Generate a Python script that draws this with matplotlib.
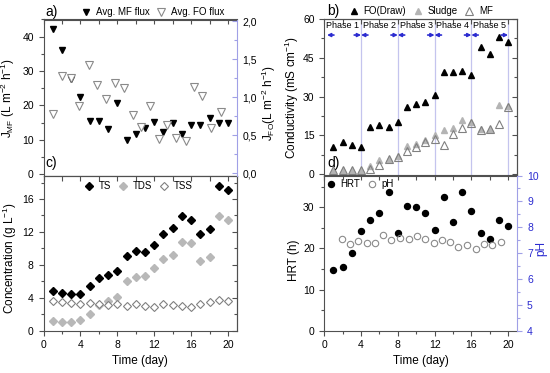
import matplotlib
matplotlib.use('Agg')
import matplotlib.pyplot as plt
from matplotlib.ticker import MultipleLocator, FixedLocator, NullFormatter

plt.rcParams['font.family'] = ['Liberation Sans', 'DejaVu Sans']
plt.rcParams['mathtext.fontset'] = 'custom'
plt.rcParams['mathtext.rm'] = 'Liberation Sans'
plt.rcParams['mathtext.it'] = 'Liberation Sans:italic'
plt.rcParams['mathtext.bf'] = 'Liberation Sans:bold'

# ---------------- data ----------------
days = [1, 2, 3, 4, 5, 6, 7, 8, 9, 10, 11, 12, 13, 14, 15, 16, 17, 18, 19, 20]

# panel a
mf_flux = [42.3, 36.1, 27.8, 22.4, 15.4, 15.5, 13.2, 20.6, 9.9, 11.8,
           13.4, 15.1, 12.4, 14.9, 11.7, 14.4, 14.3, 16.3, 14.8, 14.8]
fo_days = [1.0, 2.0, 3.0, 3.9, 4.9, 5.8, 6.8, 7.7, 8.7, 9.7,
           10.6, 11.5, 12.5, 13.4, 14.4, 15.4, 16.3, 17.2, 18.2, 19.2]
fo_flux = [0.78, 1.28, 1.25, 0.89, 1.42, 1.16, 0.98, 1.18, 1.12, 0.77,
           0.61, 0.89, 0.45, 0.64, 0.47, 0.42, 1.14, 1.01, 0.60, 0.80]
fo_ticks = [0.0, 0.5, 1.0, 1.5, 2.0]
fo_ticklabels = ['0,0', '0,5', '1,0', '1,5', '2,0']

# panel b
fo_draw = [10.7, 12.5, 11.4, 10.5, 18.4, 19.2, 18.3, 20.2, 25.9, 27.3,
           28.0, 30.5, 39.6, 39.4, 39.8, 38.2, 49.3, 46.6, 53.0, 51.2]
sludge = [1.8, 1.6, 1.7, 1.8, 3.3, 5.4, 6.0, 6.9, 10.9, 11.7,
          13.3, 15.2, 17.0, 17.9, 21.0, 20.0, 17.3, 17.6, 26.7, 26.3]
mf_cond = [1.7, 1.5, 1.6, 1.7, 1.9, 3.6, 5.8, 6.7, 9.1, 10.5,
           12.4, 13.5, 11.2, 15.7, 17.8, 19.7, 16.9, 17.3, 19.3, 26.1]
phase_names = ['Phase 1', 'Phase 2', 'Phase 3', 'Phase 4', 'Phase 5']
phase_bounds = [0.3, 4, 8, 12, 16, 20]

# panel c
ts = [4.8, 4.6, 4.4, 4.5, 5.4, 6.4, 6.8, 7.3, 9.1, 9.7,
      9.6, 10.4, 11.8, 12.5, 13.9, 13.4, 11.8, 12.3, 17.6, 17.1]
tds = [1.2, 1.1, 1.06, 1.3, 2.0, 3.1, 3.6, 4.1, 6.1, 6.5,
       6.7, 7.6, 8.7, 9.2, 10.8, 10.6, 8.5, 9.0, 13.9, 13.5]
tss = [3.6, 3.5, 3.4, 3.3, 3.4, 3.3, 3.1, 3.2, 3.0, 3.25,
       2.97, 2.85, 3.2, 3.1, 3.05, 2.85, 3.3, 3.45, 3.7, 3.65]

# panel d
hrt = [14.7, 15.5, 18.9, 24.2, 26.8, 28.7, 33.7, 23.8, 30.3, 30.1,
       28.7, 24.5, 32.4, 26.3, 33.8, 29.0, 23.8, 22.3, 27.0, 25.4]
ph_days = [1.9, 2.8, 3.7, 4.6, 5.5, 6.4, 7.3, 8.2, 9.2, 10.1,
           11.0, 11.9, 12.8, 13.7, 14.6, 15.5, 16.5, 17.4, 18.3, 19.2]
ph = [7.55, 7.36, 7.45, 7.40, 7.38, 7.69, 7.50, 7.60, 7.53, 7.68,
      7.53, 7.38, 7.49, 7.42, 7.23, 7.33, 7.14, 7.36, 7.31, 7.42]

# ---------------- figure ----------------
W, H = 550, 373
fig = plt.figure(figsize=(5.5, 3.73), dpi=100)

def rect(x0, y0, x1, y1):
    return [x0 / W, 1 - y1 / H, (x1 - x0) / W, (y1 - y0) / H]

SPINE = '#505050'
LAV = '#a0a0e6'
BLUE = '#2b2bd0'
TL = 7.5
LBL = 8.5

ax_a = fig.add_axes(rect(43.5, 19.5, 237.3, 176))
ax_c = fig.add_axes(rect(43.5, 176, 237.3, 330.7))
ax_b = fig.add_axes(rect(324.3, 19, 517.3, 175.5))
ax_d = fig.add_axes(rect(324.3, 175.5, 517.3, 330.7))


def style(ax, ymaj, ymin, xlabels, mirror_right):
    for s in ax.spines.values():
        s.set_color(SPINE)
        s.set_linewidth(0.8)
    ax.set_xlim(0, 21)
    ax.xaxis.set_major_locator(MultipleLocator(4))
    ax.xaxis.set_minor_locator(MultipleLocator(2))
    ax.yaxis.set_major_locator(MultipleLocator(ymaj))
    ax.yaxis.set_minor_locator(MultipleLocator(ymin))
    ax.tick_params(which='both', direction='out', top=False, right=False,
                   color=SPINE, labelcolor='black', labelsize=TL, width=0.8)
    ax.tick_params(which='major', length=3.5)
    ax.tick_params(which='minor', length=2)
    if not xlabels:
        ax.tick_params(labelbottom=False)
    sx = ax.secondary_xaxis('top')
    sx.xaxis.set_major_locator(MultipleLocator(4))
    sx.xaxis.set_minor_locator(MultipleLocator(2))
    sx.tick_params(which='both', direction='in', labeltop=False, color=SPINE, width=0.8)
    sx.tick_params(which='major', length=3.5)
    sx.tick_params(which='minor', length=3.5)
    sx.spines['top'].set_color(SPINE)
    sx.spines['top'].set_linewidth(0.8)
    if mirror_right:
        sy = ax.secondary_yaxis('right')
        sy.yaxis.set_major_locator(MultipleLocator(ymaj))
        sy.yaxis.set_minor_locator(MultipleLocator(ymin))
        sy.tick_params(which='both', direction='in', labelright=False, color=SPINE, width=0.8)
        sy.tick_params(which='major', length=3.5)
        sy.tick_params(which='minor', length=2)
        sy.spines['right'].set_color(SPINE)
        sy.spines['right'].set_linewidth(0.8)


# ---- panel a ----
style(ax_a, 10, 5, False, False)
ax_a.set_ylim(-0.5, 45)
ax_a.spines['right'].set_visible(False)
h_mf, = ax_a.plot(days, mf_flux, 'v', color='black', ms=5, zorder=3)
ax_a2 = ax_a.twinx()
ax_a2.set_ylim(-0.035, 2.02)
h_fo, = ax_a2.plot(fo_days, fo_flux, 'v', mfc='white', mec='#8a8a8a', mew=0.8, ms=5.5)
ax_a2.yaxis.set_major_locator(FixedLocator(fo_ticks))
ax_a2.set_yticklabels(fo_ticklabels)
ax_a2.yaxis.set_minor_locator(MultipleLocator(0.25))
for s in ['left', 'top', 'bottom']:
    ax_a2.spines[s].set_visible(False)
ax_a2.spines['right'].set_color(LAV)
ax_a2.spines['right'].set_linewidth(0.8)
ax_a2.tick_params(which='both', direction='in', color=LAV, labelsize=TL, labelcolor='black', width=0.8)
ax_a2.tick_params(which='major', length=3.5)
ax_a2.tick_params(which='minor', length=2.5)
ax_a.set_ylabel(r'$\mathrm{J_{MF}}$ (L m$^{-2}$ h$^{-1}$)', fontsize=LBL)
ax_a.yaxis.set_label_coords(-0.137, 0.5)
ax_a2.set_ylabel(r'$\mathrm{J_{FO}}$(L m$^{-2}$ h$^{-1}$)', fontsize=LBL)
ax_a2.yaxis.set_label_coords(1.117, 0.466)

# ---- panel c ----
style(ax_c, 4, 2, True, True)
ax_c.set_ylim(0, 18.8)
h_ts, = ax_c.plot(days, ts, 'D', color='black', ms=3.6, zorder=3)
h_tds, = ax_c.plot(days, tds, 'D', color='#b8b8b8', ms=3.6, zorder=2)
h_tss, = ax_c.plot(days, tss, 'D', mfc='white', mec='#808080', mew=0.8, ms=3.6, zorder=2.5)
ax_c.set_ylabel('Concentration (g L$^{-1}$)', fontsize=LBL)
ax_c.yaxis.set_label_coords(-0.128, 0.47)
ax_c.set_xlabel('Time (day)', fontsize=LBL, labelpad=3)

# ---- panel b ----
style(ax_b, 15, 7.5, False, True)
ax_b.set_ylim(-0.5, 60)
for xv in phase_bounds[1:]:
    ax_b.axvline(xv, color='#c4c4ee', lw=0.9, zorder=0)
h_draw, = ax_b.plot(days, fo_draw, '^', color='black', ms=5, zorder=3)
h_sl, = ax_b.plot(days, sludge, '^', color='#b4b4b4', ms=5, zorder=2)
h_mfc, = ax_b.plot(days, mf_cond, '^', mfc='none', mec='#808080', mew=0.8, ms=5.5, zorder=2.5)
for i, name in enumerate(phase_names):
    s, e = phase_bounds[i], phase_bounds[i + 1]
    ax_b.text((s + e) / 2 if i else 2.0, 57.6, name, fontsize=6.5, ha='center', va='center')
    ax_b.annotate('', xy=(s, 53.8), xytext=(s + 0.75, 53.8),
                  arrowprops=dict(arrowstyle='-|>', color=BLUE, lw=1.2, mutation_scale=5,
                                  shrinkA=0, shrinkB=0))
    ax_b.annotate('', xy=(e, 53.8), xytext=(e - 0.75, 53.8),
                  arrowprops=dict(arrowstyle='-|>', color=BLUE, lw=1.2, mutation_scale=5,
                                  shrinkA=0, shrinkB=0))
ax_b.set_ylabel('Conductivity (mS cm$^{-1}$)', fontsize=LBL)
ax_b.yaxis.set_label_coords(-0.121, 0.5)

# ---- panel d ----
style(ax_d, 10, 5, True, False)
ax_d.set_ylim(0, 37.7)
ax_d.spines['right'].set_visible(False)
h_hrt, = ax_d.plot(days, hrt, 'o', color='black', ms=4.3, zorder=3)
ax_d2 = ax_d.twinx()
ax_d2.set_ylim(4, 10)
h_ph, = ax_d2.plot(ph_days, ph, 'o', mfc='none', mec='#8a8a8a', mew=0.8, ms=4.6)
ax_d2.yaxis.set_major_locator(MultipleLocator(1))
ax_d2.yaxis.set_minor_locator(MultipleLocator(0.5))
for s in ['left', 'top', 'bottom']:
    ax_d2.spines[s].set_visible(False)
ax_d2.spines['right'].set_color(LAV)
ax_d2.spines['right'].set_linewidth(0.8)
ax_d2.tick_params(which='both', direction='out', color=LAV, labelsize=TL, labelcolor=BLUE, width=0.8)
ax_d2.tick_params(which='major', length=3.5)
ax_d2.tick_params(which='minor', length=2)
ax_d.set_ylabel('HRT (h)', fontsize=LBL)
ax_d.yaxis.set_label_coords(-0.126, 0.455)
ax_d2.set_ylabel('pH', fontsize=LBL, color=BLUE)
ax_d2.yaxis.set_label_coords(1.092, 0.528)
ax_d.set_xlabel('Time (day)', fontsize=LBL, labelpad=3)

# ---- legends ----
legkw = dict(loc='center left', frameon=False, fontsize=7, handlelength=1.0,
             handletextpad=0.5, columnspacing=0.7, borderpad=0, borderaxespad=0, numpoints=1)
fig.legend([h_mf, h_fo], ['Avg. MF flux', 'Avg. FO flux'], ncol=2,
           bbox_to_anchor=(81 / W, 1 - 12 / H), **legkw)
fig.legend([h_draw, h_sl, h_mfc], ['FO(Draw)', 'Sludge', 'MF'], ncol=3,
           bbox_to_anchor=(349 / W, 1 - 11.5 / H), **legkw)
fig.legend([h_ts, h_tds, h_tss], ['TS', 'TDS', 'TSS'], ncol=3,
           bbox_to_anchor=(84.4 / W, 1 - 186 / H), **legkw)
fig.legend([h_hrt, h_ph], ['HRT', 'pH'], ncol=2,
           bbox_to_anchor=(326 / W, 1 - 184 / H), **legkw)

# ---- panel letters ----
for txt, px, py in [('a)', 45, 12), ('b)', 326.7, 11), ('c)', 45, 163), ('d)', 327.7, 163)]:
    fig.text(px / W, 1 - py / H, txt, fontsize=10, ha='left', va='center')

fig.savefig('out.png', dpi=100)
